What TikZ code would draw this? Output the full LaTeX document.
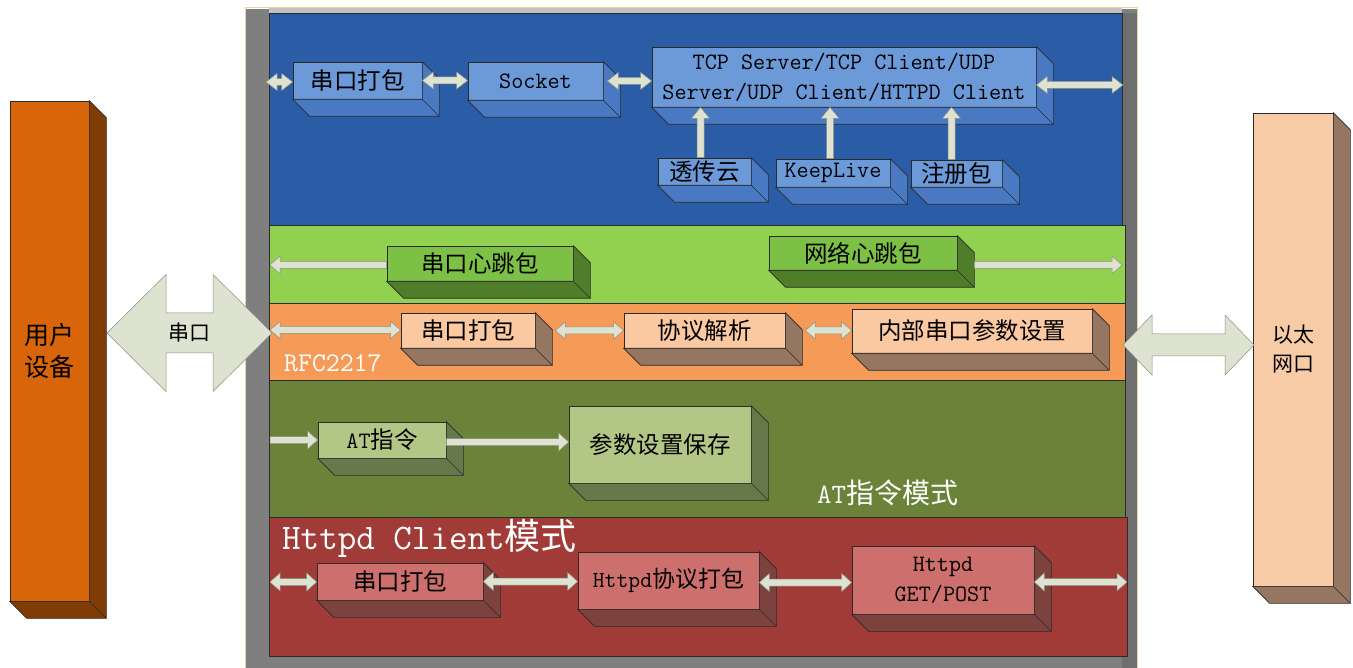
\documentclass[tikz,border=0pt]{standalone}
\usepackage{fontspec}
\newfontfamily\cjkf{Noto Sans CJK SC}
\usetikzlibrary{calc}
\definecolor{bandblue}{HTML}{2A5DA5}
\definecolor{faceblue}{HTML}{6C9AD9}
\definecolor{sideblue}{HTML}{4A79C3}
\definecolor{bandlg}{HTML}{92D050}
\definecolor{facelg}{HTML}{7CC045}
\definecolor{sidelg}{HTML}{507D2A}
\definecolor{bandor}{HTML}{F59A57}
\definecolor{faceor}{HTML}{FAC8A1}
\definecolor{sideor}{HTML}{957661}
\definecolor{bandol}{HTML}{6A8339}
\definecolor{faceol}{HTML}{B2C786}
\definecolor{sideol}{HTML}{66794A}
\definecolor{bandrd}{HTML}{A03B38}
\definecolor{facerd}{HTML}{CD6F6C}
\definecolor{siderd}{HTML}{7D423E}
\definecolor{faceuser}{HTML}{D9650B}
\definecolor{sideuser}{HTML}{7F3D05}
\definecolor{faceeth}{HTML}{F8CBA7}
\definecolor{sideeth}{HTML}{957660}
\definecolor{cream}{HTML}{DEE3D1}
\definecolor{creamline}{HTML}{8C8F80}
\definecolor{edge}{HTML}{2B2B2B}
\definecolor{frametan}{HTML}{E6D3A6}
\definecolor{bargray}{HTML}{7F7F7F}
\definecolor{bargrayR}{HTML}{6F6F6F}
\definecolor{topgray}{HTML}{C2C2C2}
\newcommand\zhs[1]{{\cjkf #1}}
\newcommand\dd{17}
\tikzset{
  face/.style={draw=edge, line width=0.6pt, inner sep=0pt, align=center, text=black,
    font=\fontsize{23.5}{30}\selectfont\ttfamily},
  barrow/.style={fill=cream, draw=creamline, line width=0.5pt},
  bandbox/.style={draw=edge, line width=0.6pt},
  whitelabel/.style={anchor=west, inner sep=0pt, text=white}
}
% name, x1, y1, x2, y2, face colour, side colour, node options, text
\newcommand\boxthree[9]{%
  \node[face, fill=#6, minimum width={(#4-#2)*1pt}, minimum height={(#5-#3)*1pt}, #8]
    (#1) at ({(#2+#4)/2},{(#3+#5)/2}) {#9};
  \filldraw[fill=#7, draw=edge, line width=0.6pt] (#1.south west) -- ++(\dd,\dd)
    -- ($(#1.south east)+(\dd,\dd)$) -- ($(#1.north east)+(\dd,\dd)$)
    -- (#1.north east) -- (#1.south east) -- cycle;
  \draw[edge, line width=0.6pt] (#1.south east) -- ++(\dd,\dd);
}
% double block arrow: from, to, half shaft, half head, head length
\newcommand\dbl[5]{%
  \path[barrow] let \p1=(#1), \p2=(#2) in
   (\x1,\y1) -- (\x1+#5pt,\y1+#4pt) -- (\x1+#5pt,\y1+#3pt) -- (\x2-#5pt,\y1+#3pt)
   -- (\x2-#5pt,\y1+#4pt) -- (\x2,\y1) -- (\x2-#5pt,\y1-#4pt) -- (\x2-#5pt,\y1-#3pt)
   -- (\x1+#5pt,\y1-#3pt) -- (\x1+#5pt,\y1-#4pt) -- cycle;}
\newcommand\rarr[2]{%
  \path[barrow] let \p1=(#1), \p2=(#2) in
   (\x1,\y1+3.5pt) -- (\x2-10pt,\y1+3.5pt) -- (\x2-10pt,\y1+9pt) -- (\x2,\y1)
   -- (\x2-10pt,\y1-9pt) -- (\x2-10pt,\y1-3.5pt) -- (\x1,\y1-3.5pt) -- cycle;}
\newcommand\larr[2]{%
  \path[barrow] let \p1=(#1), \p2=(#2) in
   (\x1,\y1+3.5pt) -- (\x2+10pt,\y1+3.5pt) -- (\x2+10pt,\y1+9pt) -- (\x2,\y1)
   -- (\x2+10pt,\y1-9pt) -- (\x2+10pt,\y1-3.5pt) -- (\x1,\y1-3.5pt) -- cycle;}
\newcommand\uarr[2]{%
  \path[barrow] let \p1=(#1), \p2=(#2) in
   (\x1-3.5pt,\y1) -- (\x1-3.5pt,\y2-11pt) -- (\x1-9pt,\y2-11pt) -- (\x1,\y2)
   -- (\x1+9pt,\y2-11pt) -- (\x1+3.5pt,\y2-11pt) -- (\x1+3.5pt,\y1) -- cycle;}
\begin{document}
\begin{tikzpicture}[x=1pt,y=-1pt]
\useasboundingbox (0,0) rectangle (1353,668);
\fill[white] (0,0) rectangle (1353,668);
% ---------- frame ----------
\fill[bargray] (246,9) rectangle (1137,668);
\fill[bargrayR] (1122,13) rectangle (1137,668);
\fill[topgray] (269,8.5) rectangle (1122,13);
\draw[frametan, line width=1pt] (245.5,668) -- (245.5,8) -- (1137.5,8) -- (1137.5,668);
% ---------- bands ----------
\filldraw[bandbox, fill=bandblue] (269,13) rectangle (1122,225);
\filldraw[bandbox, fill=bandlg] (269,225) rectangle (1125,303);
\filldraw[bandbox, fill=bandor] (269,303) rectangle (1125,380);
\filldraw[bandbox, fill=bandol] (269,380) rectangle (1125,517);
\filldraw[bandbox, fill=bandrd] (269,517) rectangle (1127,656);
% ---------- blue band ----------
\boxthree{tp1}{293}{62}{422}{99}{faceblue}{sideblue}{}{\zhs{串口打包}}
\boxthree{tsock}{468}{62}{603}{100}{faceblue}{sideblue}{}{Socket}
\boxthree{ttcp}{652}{47}{1036}{107}{faceblue}{sideblue}{}{TCP Server/TCP Client/UDP\\Server/UDP Client/HTTPD Client}
\boxthree{tcloud}{658}{158}{751}{185}{faceblue}{sideblue}{}{\zhs{透传云}}
\boxthree{tkeep}{776}{159}{890}{187}{faceblue}{sideblue}{}{KeepLive}
\boxthree{treg}{911}{160}{1002}{187}{faceblue}{sideblue}{}{\zhs{注册包}}
\coordinate (tl) at (266,82);
\coordinate (tr) at (1123,85);
\dbl{tl}{tp1.west |- tl}{3.5}{8.5}{11}
\dbl{tp1.east}{tsock.west |- tp1.east}{3.5}{8.5}{11}
\dbl{$(tsock.east)+(4,0)$}{ttcp.west |- tsock.east}{3.5}{8.5}{11}
\dbl{ttcp.east |- tr}{tr}{3.5}{8.5}{11}
\uarr{$(tcloud.north)+(-4,0)$}{$(tcloud.north |- ttcp.south)+(-4,0)$}
\uarr{$(tkeep.north)+(-3,0)$}{$(tkeep.north |- ttcp.south)+(-3,0)$}
\uarr{$(treg.north)+(-5,0)$}{$(treg.north |- ttcp.south)+(-5,0)$}
% ---------- light green band ----------
\boxthree{ghb1}{387}{246}{573}{281}{facelg}{sidelg}{}{\zhs{串口心跳包}}
\boxthree{ghb2}{769}{236}{957}{270}{facelg}{sidelg}{}{\zhs{网络心跳包}}
\coordinate (gl) at (270,265);
\coordinate (gr) at (1122,265);
\larr{ghb1.west |- gl}{gl}
\rarr{$(ghb2.east |- gr)+(\dd,0)$}{gr}
% ---------- orange band ----------
\boxthree{op1}{401}{313}{535}{348}{faceor}{sideor}{}{\zhs{串口打包}}
\boxthree{oproto}{624}{313}{785}{348}{faceor}{sideor}{}{\zhs{协议解析}}
\boxthree{oset}{852}{309}{1092}{353}{faceor}{sideor}{}{\zhs{内部串口参数设置}}
\coordinate (ol) at (270,330);
\dbl{ol}{op1.west |- ol}{3.5}{8.5}{10}
\dbl{$(op1.east)+(\dd+3,0)$}{oproto.west |- op1.east}{3.5}{8.5}{10}
\dbl{$(oproto.east)+(\dd+3,0)$}{oset.west |- oproto.east}{3.5}{8.5}{10}
\node[whitelabel, font=\fontsize{27}{30}\selectfont\ttfamily] (lrfc) at (284,363) {RFC2217};
% ---------- olive band ----------
\boxthree{oat}{318}{422}{446}{458}{faceol}{sideol}{}{AT\zhs{指令}}
\boxthree{osave}{569}{406}{751}{483}{faceol}{sideol}{}{\zhs{参数设置保存}}
\coordinate (al) at (270,440);
\rarr{al}{oat.west |- al}
\rarr{$(oat.east)+(0,2)$}{$(osave.west |- oat.east)+(0,2)$}
\node[whitelabel, font=\fontsize{28}{30}\selectfont\ttfamily] (lat) at (817,493) {AT\zhs{指令模式}};
% ---------- red band ----------
\node[whitelabel, font=\fontsize{36}{40}\selectfont\ttfamily] (lhttpd) at (282,538) {Httpd Client\zhs{模式}};
\boxthree{rp1}{317}{563}{483}{600}{facerd}{siderd}{}{\zhs{串口打包}}
\boxthree{rproto}{578}{552}{759}{609}{facerd}{siderd}{font=\fontsize{23}{30}\selectfont\ttfamily}{Httpd\zhs{协议打包}}
\boxthree{rget}{852}{546}{1034}{614}{facerd}{siderd}{}{Httpd\\GET/POST}
\coordinate (rl) at (270,582);
\coordinate (rr) at (1127,582);
\dbl{rl}{rp1.west |- rl}{3.5}{9}{10}
\dbl{rp1.east}{rproto.west |- rp1.east}{3.5}{9}{10}
\dbl{$(rproto.east)+(0,2)$}{$(rget.west |- rproto.east)+(0,2)$}{3.5}{9}{10}
\dbl{rget.east |- rr}{rr}{3.5}{9}{10}
% ---------- side devices ----------
\boxthree{user}{10}{101}{89}{601}{faceuser}{sideuser}{font=\fontsize{25}{32}\selectfont\cjkf}{用户\\设备}
\boxthree{eth}{1253}{113}{1333}{586}{faceeth}{sideeth}{font=\fontsize{21}{29}\selectfont\cjkf}{以太\\网口}
\coordinate (sl) at (107,333);
\coordinate (sr) at (272,333);
\dbl{sl}{sr}{20}{58.5}{59}
\node[inner sep=0pt, font=\fontsize{21}{26}\selectfont\cjkf] (serial) at (189,333) {串口};
\coordinate (el) at (1123,345);
\coordinate (er) at (1254,345);
\dbl{el}{er}{11}{30}{29}
\end{tikzpicture}
\end{document}
